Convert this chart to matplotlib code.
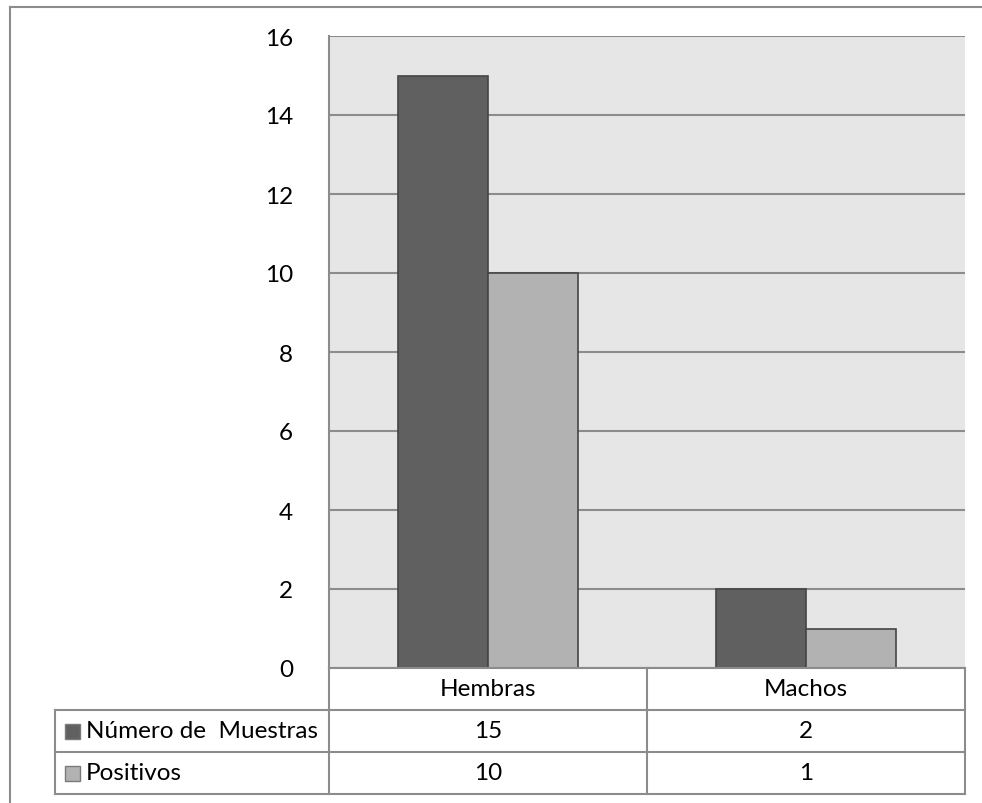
import matplotlib
matplotlib.use("Agg")
import matplotlib.pyplot as plt
import matplotlib.transforms as mtransforms
import numpy as np

# datos
categorias = ["Hembras", "Machos"]
series = ["Número de  Muestras", "Positivos"]
muestras = [15, 2]
positivos = [10, 1]
valores = [muestras, positivos]
yticks = [0, 2, 4, 6, 8, 10, 12, 14, 16]

colores = ["#606060", "#b2b2b2"]
borde = "#8c8c8c"
plt.rcParams["font.family"] = ["Lato", "DejaVu Sans"]
fs = 17.5

W, H = 982, 804
fig = plt.figure(figsize=(W / 100, H / 100), dpi=100)

# marco exterior (solo se ven el lado izq. y el superior)
fig.add_artist(plt.Line2D([10 / W, 10 / W], [0, 1 - 8 / H], color=borde, lw=1.5))
fig.add_artist(plt.Line2D([10 / W, 1], [1 - 8 / H, 1 - 8 / H], color=borde, lw=1.5))

x0, x1, ytop, ybot = 329, 965, 37, 669
ax = fig.add_axes([x0 / W, 1 - ybot / H, (x1 - x0) / W, (ybot - ytop) / H])
ax.set_facecolor("#e6e6e6")

x = np.arange(len(categorias))
ancho = 0.283
for i, (vals, c) in enumerate(zip(valores, colores)):
    ax.bar(x + (i - 0.5) * ancho, vals, ancho, color=c, edgecolor="#454545",
           linewidth=1.2, zorder=3)

ax.set_xlim(-0.5, len(categorias) - 0.5)
ax.set_ylim(0, 16)
ax.set_yticks(yticks)
ax.set_yticklabels([str(t) for t in yticks], fontsize=fs)
ax.tick_params(axis="y", length=0, pad=26)
ax.set_xticks([])
ax.yaxis.grid(True, color=borde, lw=1.5, zorder=0)
ax.set_axisbelow(True)
for s in ["top", "right"]:
    ax.spines[s].set_visible(False)
for s in ["left", "bottom"]:
    ax.spines[s].set_color(borde)
    ax.spines[s].set_linewidth(1.5)
    ax.spines[s].set_zorder(4)

# tabla de datos debajo del eje
fila = 42 / (ybot - ytop)  # alto de fila en fracción de eje
xizq = -0.5 - (x0 - 55) / (x1 - x0) * len(categorias)
trans = mtransforms.blended_transform_factory(ax.transData, ax.transAxes)
kw = dict(color=borde, lw=1.5, clip_on=False, transform=trans)

def y_fila(k):
    return -fila * k

# lineas horizontales
for k in range(1, 4):
    ax.plot([xizq, len(categorias) - 0.5], [y_fila(k)] * 2, **kw)
# lineas verticales
ax.plot([xizq, xizq], [y_fila(1), y_fila(3)], **kw)
for b in np.arange(len(categorias) + 1) - 0.5:
    ax.plot([b, b], [0, y_fila(3)], **kw)

# encabezados de categoria
for xi, cat in zip(x, categorias):
    ax.text(xi, y_fila(0.5), cat, transform=trans, ha="center", va="center",
            fontsize=fs)

# filas de cada serie, con su clave de color
for r, (nombre, vals, c) in enumerate(zip(series, valores, colores)):
    yc = y_fila(1.5 + r)
    for xi, v in zip(x, vals):
        ax.text(xi, yc, str(v), transform=trans, ha="center", va="center",
                fontsize=fs)
    ypx = ybot + 42 * (1.5 + r)
    fig.add_artist(plt.Rectangle((65 / W, 1 - (ypx + 7.5) / H),
                                 15 / W, 15 / H, facecolor=c,
                                 edgecolor="#7a7a7a", lw=1,
                                 transform=fig.transFigure))
    fig.text(86 / W, 1 - ypx / H, nombre, ha="left", va="center", fontsize=fs)

fig.savefig("out.png", dpi=100)
